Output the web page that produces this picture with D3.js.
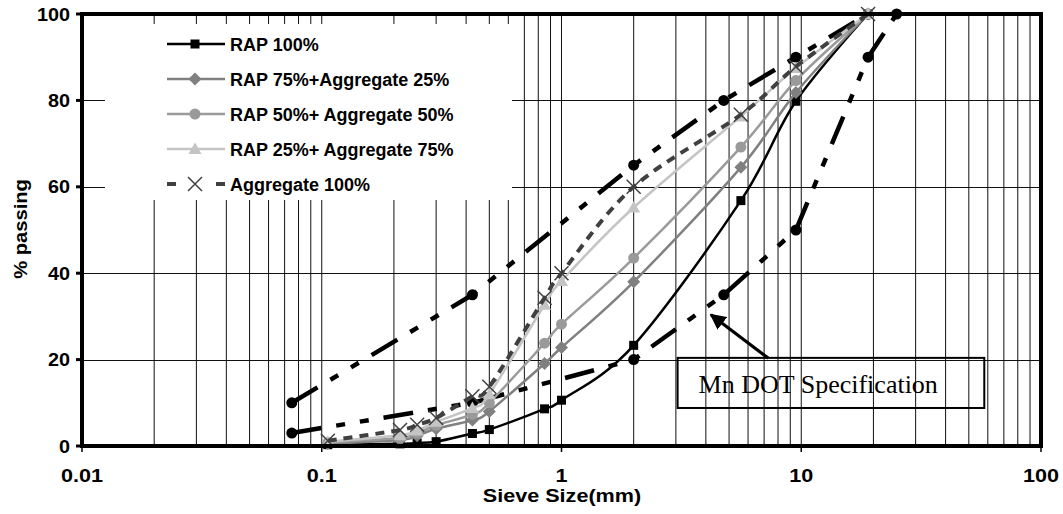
<!DOCTYPE html>
<html>
<head>
<meta charset="utf-8">
<script src="https://cdn.jsdelivr.net/npm/d3@7"></script>
<style>
  body { margin: 0; background: #fff; }
  svg { display: block; }
  text { fill: #000; }
</style>
</head>
<body>
<svg id="chart" width="1063" height="514"></svg>
<script>
// Sieve sizes (mm) for the blend gradations
const sieveSizes = [0.106, 0.212, 0.25, 0.3, 0.425, 0.5, 0.85, 1, 2, 5.6, 9.5, 19];

// Percent passing for each blend
const rap100   = [0.3, 0.5, 0.7, 1.0, 2.9, 3.8, 8.6, 10.6, 23.3, 56.8, 79.8, 100];
const rap75    = [0.6, 1.4, 2.4, 4.0, 6.0, 8.0, 19.1, 22.8, 38.0, 64.5, 81.8, 100];
const rap50    = [0.8, 1.9, 3.0, 4.8, 7.3, 10.0, 23.8, 28.2, 43.5, 69.2, 84.6, 100];
const rap25    = [1.0, 2.5, 3.6, 5.6, 8.8, 12.0, 32.7, 38.2, 55.2, 76.3, 87.5, 100];
const agg100   = [1.2, 3.7, 4.9, 6.5, 11.5, 13.7, 34.3, 40.0, 60.0, 76.7, 87.8, 100];

// Mn DOT specification band
const specUpperSizes = [0.075, 0.425, 2, 4.75, 9.5, 19];
const specUpper      = [10, 35, 65, 80, 90, 100];
const specLowerSizes = [0.075, 0.425, 2, 4.75, 9.5, 19, 25];
const specLower      = [3, 10, 20, 35, 50, 90, 100];

// Axis ticks
const xTickValues = [0.01, 0.1, 1, 10, 100];
const xTickLabels = ["0.01", "0.1", "1", "10", "100"];
const yTickValues = [0, 20, 40, 60, 80, 100];

const seriesNames = ["RAP 100%", "RAP 75%+Aggregate 25%", "RAP 50%+ Aggregate 50%",
                     "RAP 25%+ Aggregate 75%", "Aggregate 100%"];

const sans = "'Liberation Sans', Arial, sans-serif";
const serif = "'Liberation Serif', 'Times New Roman', serif";

const svg = d3.select("#chart");
const plotLeft = 82, plotRight = 1041, plotTop = 14, plotBottom = 446;

const x = d3.scaleLog().domain([0.01, 100]).range([plotLeft, plotRight]);
const y = d3.scaleLinear().domain([0, 100]).range([plotBottom, plotTop]);

// Log grid: every 1..9 x 10^k
const grid = svg.append("g");
const vGrid = [];
for (let k = -2; k <= 1; k++) {
  for (let i = 1; i <= 9; i++) {
    const v = i * Math.pow(10, k);
    if (v > 0.01 && v < 100) vGrid.push(v);
  }
}
grid.selectAll("line.v").data(vGrid).join("line")
  .attr("x1", d => x(d)).attr("x2", d => x(d))
  .attr("y1", y(0)).attr("y2", y(100))
  .attr("stroke", "#111").attr("stroke-width", 1);
grid.selectAll("line.h").data(yTickValues.filter(d => d > 0 && d < 100)).join("line")
  .attr("x1", plotLeft).attr("x2", plotRight)
  .attr("y1", d => Math.round(y(d)) + 0.5).attr("y2", d => Math.round(y(d)) + 0.5)
  .attr("stroke", "#111").attr("stroke-width", 1);

const pts = (xs, ys) => xs.map((s, i) => [x(s), y(ys[i])]);
const smooth = d3.line().curve(d3.curveCardinal.tension(0));
const straight = d3.line();

// Specification bounds: heavy long-dash-dot-dot lines with round markers
const specG = svg.append("g");
[[specUpperSizes, specUpper], [specLowerSizes, specLower]].forEach(([xs, ys]) => {
  specG.append("path")
    .attr("d", straight(pts(xs, ys)))
    .attr("fill", "none").attr("stroke", "#000")
    .attr("stroke-width", 4.5)
    .attr("stroke-dasharray", "30,15,9,15,9,15");
  specG.selectAll(null).data(pts(xs, ys)).join("circle")
    .attr("cx", d => d[0]).attr("cy", d => d[1]).attr("r", 5.5)
    .attr("fill", "#000");
});

// Blend series
const series = [
  { name: seriesNames[0], values: rap100, color: "#000000", marker: "square",   dash: null },
  { name: seriesNames[1], values: rap75,  color: "#808080", marker: "diamond",  dash: null },
  { name: seriesNames[2], values: rap50,  color: "#9a9a9a", marker: "circle",   dash: null },
  { name: seriesNames[3], values: rap25,  color: "#c4c4c4", marker: "triangle", dash: null },
  { name: seriesNames[4], values: agg100, color: "#404040", marker: "x",        dash: "9,7" }
];

function drawMarker(g, type, color, cx, cy) {
  if (type === "square") {
    g.append("rect").attr("x", cx - 4.5).attr("y", cy - 4.5)
      .attr("width", 9).attr("height", 9).attr("fill", color);
  } else if (type === "diamond") {
    g.append("path").attr("d", `M${cx},${cy - 6.5}L${cx + 6.5},${cy}L${cx},${cy + 6.5}L${cx - 6.5},${cy}Z`)
      .attr("fill", color);
  } else if (type === "circle") {
    g.append("circle").attr("cx", cx).attr("cy", cy).attr("r", 5.5).attr("fill", color);
  } else if (type === "triangle") {
    g.append("path").attr("d", `M${cx},${cy - 6.5}L${cx + 6.5},${cy + 5}L${cx - 6.5},${cy + 5}Z`)
      .attr("fill", color);
  } else if (type === "x") {
    g.append("path").attr("d", `M${cx - 7},${cy - 7}L${cx + 7},${cy + 7}M${cx - 7},${cy + 7}L${cx + 7},${cy - 7}`)
      .attr("stroke", color).attr("stroke-width", 1.5).attr("fill", "none");
  }
}

series.forEach(s => {
  const g = svg.append("g");
  const p = pts(sieveSizes, s.values);
  g.append("path")
    .attr("d", smooth(p))
    .attr("fill", "none").attr("stroke", s.color)
    .attr("stroke-width", s.dash ? 4 : 2.5)
    .attr("stroke-dasharray", s.dash);
  p.forEach(d => drawMarker(g, s.marker, s.color, d[0], d[1]));
});

// Plot frame
svg.append("rect")
  .attr("x", plotLeft).attr("y", plotTop)
  .attr("width", plotRight - plotLeft).attr("height", plotBottom - plotTop)
  .attr("fill", "none").attr("stroke", "#000").attr("stroke-width", 4);

// Bold axis text, slightly widened
function axisText(px, py, str, anchor, sx, rotate) {
  return svg.append("text")
    .attr("transform", `translate(${px},${py})${rotate ? " rotate(-90)" : ""} scale(${sx},1)`)
    .attr("text-anchor", anchor)
    .style("font-family", sans).style("font-size", "18px").style("font-weight", "bold")
    .text(str);
}

// Y axis ticks and labels
svg.selectAll("line.yt").data(yTickValues).join("line")
  .attr("x1", plotLeft - 6).attr("x2", plotLeft).attr("y1", d => y(d)).attr("y2", d => y(d))
  .attr("stroke", "#000").attr("stroke-width", 3);
yTickValues.forEach(d => axisText(70, y(d) + 6.5, String(d), "end", 1.1, false));

// X axis ticks and labels
svg.selectAll("line.xt").data(xTickValues).join("line")
  .attr("x1", d => x(d)).attr("x2", d => x(d)).attr("y1", plotBottom).attr("y2", plotBottom + 6)
  .attr("stroke", "#000").attr("stroke-width", 1.5);
xTickValues.forEach((d, i) => axisText(x(d), 482, xTickLabels[i], "middle", 1.2, false));

// Axis titles
axisText(562, 502, "Sieve Size(mm)", "middle", 1.2, false);
axisText(27, 229, "% passing", "middle", 1.12, true);

// Legend
const legend = svg.append("g");
legend.append("rect").attr("x", 105).attr("y", 24).attr("width", 407).attr("height", 176)
  .attr("fill", "#fff");
series.forEach((s, i) => {
  const ly = 44 + i * 35;
  const g = legend.append("g");
  if (s.dash) {
    g.append("line").attr("x1", 167).attr("x2", 176).attr("y1", ly).attr("y2", ly)
      .attr("stroke", s.color).attr("stroke-width", 4);
    g.append("line").attr("x1", 216).attr("x2", 225).attr("y1", ly).attr("y2", ly)
      .attr("stroke", s.color).attr("stroke-width", 4);
  } else {
    g.append("line").attr("x1", 167).attr("x2", 225).attr("y1", ly).attr("y2", ly)
      .attr("stroke", s.color).attr("stroke-width", 2.5);
  }
  drawMarker(g, s.marker, s.color, 195, ly);
  g.append("text").attr("x", 230).attr("y", ly + 6.5)
    .style("font-family", sans).style("font-size", "18px").style("font-weight", "bold")
    .text(s.name);
});

// Annotation pointing at the specification band
const ann = svg.append("g");
svg.append("defs").append("marker")
  .attr("id", "arrowHead").attr("viewBox", "0 0 10 10")
  .attr("refX", 9).attr("refY", 5)
  .attr("markerWidth", 5).attr("markerHeight", 5)
  .attr("markerUnits", "strokeWidth")
  .attr("orient", "auto")
  .append("path").attr("d", "M0,0L10,5L0,10Z").attr("fill", "#000");
ann.append("line")
  .attr("x1", x(7.3)).attr("y1", y(20.3))
  .attr("x2", x(4.2)).attr("y2", y(30.4))
  .attr("stroke", "#000").attr("stroke-width", 3.2)
  .attr("marker-end", "url(#arrowHead)");
ann.append("rect")
  .attr("x", x(3.05)).attr("y", y(20.4))
  .attr("width", x(58) - x(3.05)).attr("height", y(8.8) - y(20.4))
  .attr("fill", "none").attr("stroke", "#000").attr("stroke-width", 2);
ann.append("text")
  .attr("x", x(3.05) + 21).attr("y", y(12.3))
  .style("font-family", serif).style("font-size", "26px")
  .text("Mn DOT Specification");
</script>
</body>
</html>
